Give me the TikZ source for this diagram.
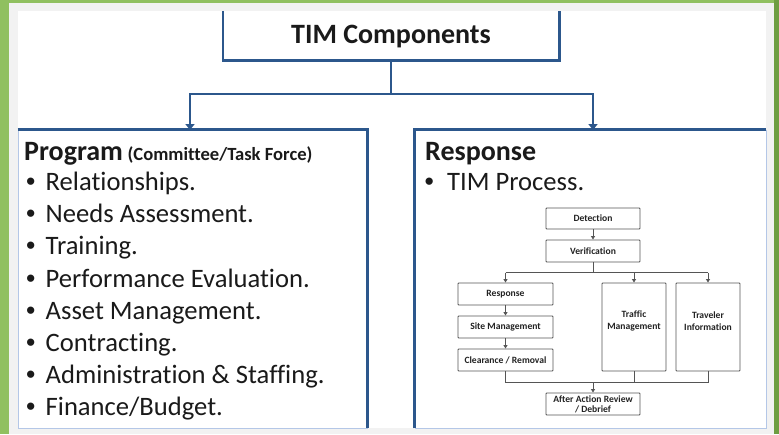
\documentclass[tikz,border=0pt]{standalone}
\usepackage{fontspec}
\setmainfont{Carlito}[Ligatures=NoCommon]
\newfontfamily\bulfont{Liberation Sans}
\usetikzlibrary{arrows.meta}
\definecolor{frgreen}{HTML}{90C060}
\definecolor{frgreendk}{HTML}{6E9E42}
\definecolor{frgray}{HTML}{F2F2F2}
\definecolor{tblue}{HTML}{2C578C}
\definecolor{lblue}{HTML}{B4C7E7}
\definecolor{fgray}{HTML}{555555}
\definecolor{ftext}{HTML}{222222}
\definecolor{btext}{HTML}{1A1A1A}
\newcommand{\bul}{{\bulfont\textbullet}}
\begin{document}
\begin{tikzpicture}[x=1pt,y=-1pt,
  main/.style={draw=tblue,line width=2.6pt},
  mainarrow/.style={draw=tblue,line width=2.6pt,-{Triangle[length=6pt,width=9pt]}},
  panelbox/.style={draw=lblue,line width=0.6pt,minimum height=298pt,inner sep=0pt},
  head/.style={anchor=base west,font=\fontsize{28}{30}\selectfont\bfseries,inner sep=0pt,text=btext},
  item/.style={anchor=base west,font=\fontsize{26.6}{30}\selectfont,inner sep=0pt,text=btext},
  fbox/.style={draw=fgray,line width=0.9pt,rounded corners=0.8pt,inner sep=0pt,
    font=\fontsize{9.6}{10}\selectfont\bfseries,text=ftext,align=center},
  flbl/.style={font=\fontsize{9.6}{12}\selectfont\bfseries,text=ftext,align=center,inner sep=0pt},
  farrow/.style={draw=fgray,line width=0.9pt,-{Triangle[length=3.5pt,width=4pt]}},
  fline/.style={draw=fgray,line width=0.9pt}]
\useasboundingbox (0,0) rectangle (779,434);
% frame
\fill[frgreen] (0,0) rectangle (779,434);
\fill[frgreendk] (774,0) rectangle (779,434);
\fill[frgray] (9,3) rectangle (774,434);
\fill[white] (18,11) rectangle (766,428);

% title
\node[minimum width=336pt,minimum height=49pt,inner sep=0pt] (tbox) at (391,35.5) {};
\draw[main] (tbox.north west) -- (tbox.south west) -- (tbox.south east) -- (tbox.north east);
\node[anchor=base,font=\fontsize{28}{30}\selectfont\bfseries,inner sep=0pt,text=btext] (ttext) at (391,43.5) {TIM Components};

% panels
\node[panelbox,minimum width=349pt] (leftp) at (192.5,279) {};
\node[panelbox,minimum width=351pt] (rightp) at (590.5,279) {};
\draw[main] (leftp.north west) -- (leftp.north east) -- (leftp.south east);
\draw[main] (rightp.south west) -- (rightp.north west) -- (rightp.north east);

% main connectors
\coordinate (hb) at (391,94);
\coordinate (la) at (190,130);
\coordinate (ra) at (593,130);
\draw[main] (tbox.south) -- (hb);
\draw[mainarrow] (hb) -| (la);
\draw[mainarrow] (hb) -| (ra);

% left panel text
\node[head] (proghead) at (24,160.5) {Program\,{\fontsize{18.6}{20}\selectfont (Committee/Task Force)}};
\foreach \t [count=\i] in {Relationships., Needs Assessment., Training., Performance Evaluation., Asset Management., Contracting., Administration \& Staffing., Finance/Budget.}{
  \node[item] (item\i) at (26,{190.5+32.2*(\i-1)}) {\makebox[19.5pt][l]{\bul}\t};
}

% right panel text
\node[head] (resphead) at (425,160.5) {Response};
\node[item] (timproc) at (424.5,190.5) {\makebox[22.5pt][l]{\bul}TIM Process.};

% flowchart
\node[fbox,minimum width=94pt,minimum height=21pt] (det) at (593,218.5) {Detection};
\node[fbox,minimum width=94pt,minimum height=22pt] (ver) at (593,251) {Verification};
\node[fbox,minimum width=95pt,minimum height=22pt] (fresp) at (505.5,294) {Response};
\node[fbox,minimum width=95pt,minimum height=22pt] (site) at (505.5,327) {Site Management};
\node[fbox,minimum width=95pt,minimum height=22pt] (clear) at (505.5,360) {Clearance / Removal};
\node[fbox,minimum width=64pt,minimum height=88pt] (traf) at (634,327) {};
\node[fbox,minimum width=64pt,minimum height=88pt] (trav) at (708,327) {};
\node[flbl] (traflbl) at (634,321) {Traffic\\Management};
\node[flbl] (travlbl) at (708,321) {Traveler\\Information};
\node[fbox,minimum width=94pt,minimum height=22pt] (after) at (593,404) {After Action Review\\/ Debrief};

\draw[farrow] (det) -- (ver);
\coordinate (vb) at (593,272.7);
\draw[fline] (ver.south) -- (vb);
\draw[fline] (fresp.north |- vb) -- (trav.north |- vb);
\draw[farrow] (fresp.north |- vb) -- (fresp.north);
\draw[farrow] (traf.north |- vb) -- (traf.north);
\draw[farrow] (trav.north |- vb) -- (trav.north);
\draw[farrow] (fresp) -- (site);
\draw[farrow] (site) -- (clear);
\coordinate (mb) at (593,382);
\draw[fline] (clear.south) |- (trav.south |- mb) -- (trav.south);
\draw[fline] (traf.south) -- (traf.south |- mb);
\draw[farrow] (mb) -- (after.north);
\end{tikzpicture}
\end{document}
